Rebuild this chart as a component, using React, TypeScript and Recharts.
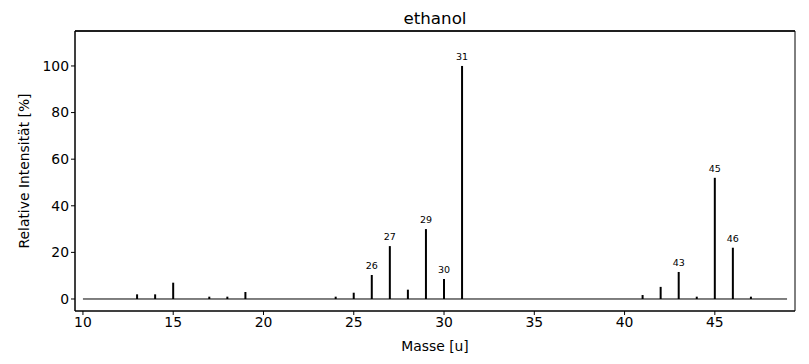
import { ComposedChart, Bar, XAxis, YAxis, ReferenceLine, ReferenceArea, LabelList, CartesianGrid } from 'recharts'

// Massenspektrum Ethanol (relative Intensität in %)
const masses = [13, 14, 15, 17, 18, 19, 24, 25, 26, 27, 28, 29, 30, 31, 41, 42, 43, 44, 45, 46, 47]
const intensities = [2, 2, 7, 1, 1, 3, 1, 2.7, 10.3, 22.7, 4, 30, 8.6, 100, 1.7, 5.2, 11.6, 1, 52, 22, 1]
const labelled = [26, 27, 29, 30, 31, 43, 45, 46]
const xTicks = [10, 15, 20, 25, 30, 35, 40, 45]
const yTicks = [0, 20, 40, 60, 80, 100]
const baseline = [10, 49]
const xDomain = [9.56, 49.44]
const yDomain = [-5.15, 115]

const data = masses.map((m, i) => ({ mass: m, value: intensities[i] }))

const font = 'DejaVu Sans, sans-serif'

const PeakLabel = (props: any) => {
  const { x, y, width, index } = props
  const m = masses[index]
  if (!labelled.includes(m)) return null
  return (
    <text x={x + width / 2} y={y - 6} textAnchor="middle" fontSize={9.5} fontFamily={font} fill="#000">
      {m}
    </text>
  )
}

export default function App() {
  return (
    <div style={{ position: 'absolute', left: 0, top: 0, width: 809, height: 364, background: '#fff' }}>
      <ComposedChart width={809} height={364} data={data} margin={{ top: 31, right: 14, bottom: 33, left: 0 }}>
        <text x={435} y={24} textAnchor="middle" fontSize={16.7} fontFamily={font} fill="#000">
          ethanol
        </text>
        <CartesianGrid vertical={false} horizontalValues={[yDomain[1]]} stroke="#000" strokeWidth={1} />
        <XAxis
          dataKey="mass"
          type="number"
          domain={xDomain}
          ticks={xTicks}
          allowDataOverflow
          stroke="#000"
          tickSize={4}
          height={20}
          tick={{ fill: '#000', fontSize: 13.9, fontFamily: font }}
          label={{
            content: (p: any) => (
              <text x={p.viewBox.x + p.viewBox.width / 2} y={351} textAnchor="middle" fontSize={13.9} fontFamily={font} fill="#000">
                Masse [u]
              </text>
            ),
          }}
        />
        <YAxis
          type="number"
          domain={yDomain}
          ticks={yTicks}
          allowDataOverflow
          stroke="#000"
          tickSize={4}
          width={75}
          tick={{ fill: '#000', fontSize: 13.9, fontFamily: font }}
          label={{
            content: (p: any) => (
              <text
                x={29}
                y={p.viewBox.y + p.viewBox.height / 2}
                transform={`rotate(-90 29 ${p.viewBox.y + p.viewBox.height / 2})`}
                textAnchor="middle"
                fontSize={13.9}
                fontFamily={font}
                fill="#000"
              >
                Relative Intensität [%]
              </text>
            ),
          }}
        />
        <ReferenceArea
          x1={xDomain[0]}
          x2={xDomain[1]}
          y1={yDomain[0]}
          y2={yDomain[1]}
          fill="none"
          fillOpacity={0}
          stroke="#000"
          strokeWidth={1}
          ifOverflow="visible"
        />
        <ReferenceLine y={yDomain[1]} stroke="#000" strokeWidth={1} ifOverflow="visible" />
        <ReferenceLine
          segment={[{ x: baseline[0], y: 0 }, { x: baseline[1], y: 0 }]}
          stroke="#000"
          strokeWidth={1}
        />
        <Bar dataKey="value" fill="#000" barSize={2} isAnimationActive={false}>
          <LabelList dataKey="value" content={PeakLabel} />
        </Bar>
      </ComposedChart>
    </div>
  )
}
